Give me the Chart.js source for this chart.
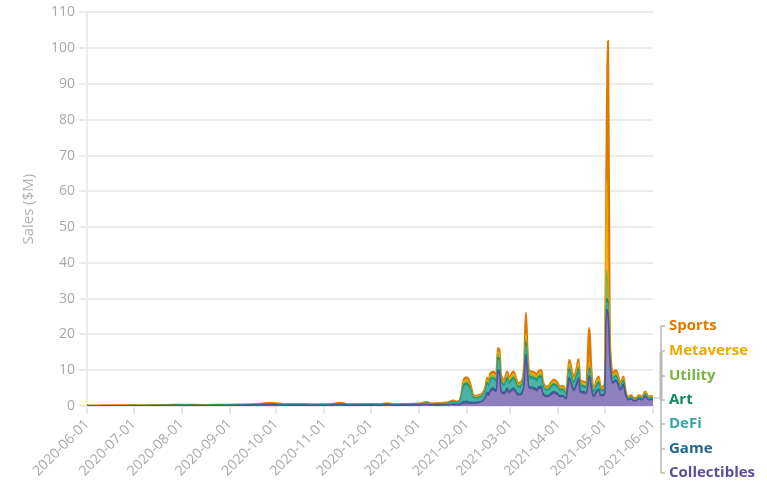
<!DOCTYPE html>
<html><head><meta charset="utf-8">
<script src="https://cdn.jsdelivr.net/npm/chart.js@4"></script>
<style>html,body{margin:0;padding:0;background:#fff}#wrap{position:relative;width:767px;height:494px}</style>
</head><body><div id="wrap"><canvas id="c" width="767" height="494"></canvas></div>
<script>
// day index counted from 2020-06-01
const days = [0,7,14,21,28,35,42,49,56,63,70,77,84,91,98,105,112,118,122,128,135,142,149,156,164,168,175,182,189,193,198,205,212,
216,219,222,226,230,233,236,239,241,243,245,247,249,251,253,255,257,258,259,260,262,264,265,266,267,269,271,272,275,276,278,280,
282,283,284,285,287,289,290,291,293,294,297,299,301,303,305,307,309,311,313,314,316,317,318,320,322,324,325,326,327,328,330,331,333,334,
335,336,337,338,339,341,342,344,346,347,349,351,352,354,356,358,360,362,364,365];

const collectibles = [.06,.05,.07,.06,.08,.07,.09,.1,.12,.11,.12,.1,.12,.14,.16,.17,.22,.3,.25,.18,.2,.18,.16,.18,.3,.18,.18,.2,.18,.25,.18,.2,.22,
.25,.35,.22,.25,.28,.3,.4,.35,.5,.8,.8,.7,.8,.8,1.0,1.3,2.3,3.4,3.0,4.0,4.5,4.0,9.6,9.0,4.0,3.3,4.6,3.6,4.6,4.1,3.0,3.2,
6.5,14,9,5,4.8,4.5,4.2,4.8,5.0,3.2,2.6,3.1,3.6,3.3,2.6,2.7,1.9,7.5,5,4.3,6.2,7.5,3.9,3.6,3.4,8,5.5,3.2,2.6,3.4,4.4,2.9,2.9,3.5,
26,25,14,8,6.3,7,6.4,4.4,5.8,3.5,1.7,2.0,1.5,1.4,2.0,1.6,2.7,1.7,1.8,1.6];

const game = [.02,.02,.03,.02,.03,.03,.03,.04,.05,.04,.05,.04,.05,.06,.07,.08,.1,.15,.12,.09,.1,.09,.08,.09,.12,.09,.09,.1,.09,.12,.09,.1,.1,
.08,.1,.07,.08,.09,.1,.15,.12,.2,.5,.5,.4,.2,.2,.2,.2,.3,.4,.4,.5,.5,.5,.6,.6,.5,.4,.5,.4,.5,.5,.4,.4,
.5,.6,.5,.5,.5,.5,.5,.5,.5,.4,.3,.4,.4,.4,.3,.3,.2,.5,.4,.4,.5,.5,.4,.4,.4,.5,.4,.3,.3,.4,.4,.3,.3,.3,
1,1,.5,.4,.3,.3,.3,.2,.3,.2,.1,.1,.1,.1,.1,.1,.15,.1,.1,.1];

const defi = [.02,.01,.02,.02,.03,.02,.03,.03,.04,.04,.04,.03,.04,.05,.06,.07,.1,.15,.12,.09,.1,.09,.08,.09,.15,.09,.09,.1,.09,.14,.09,.1,.12,
.25,.35,.22,.25,.28,.32,.5,.4,1.2,4.1,4.5,3.5,1.2,1.0,1.1,1.2,1.6,2.2,2.0,2.4,2.4,2.2,2.8,2.7,2.0,1.9,2.3,2.0,2.3,2.1,1.6,1.7,
2.2,2.5,2.3,2.3,2.2,2.2,2.1,2.2,2.3,1.7,1.3,1.5,1.7,1.6,1.3,1.3,1.0,1.8,1.6,1.5,1.7,1.8,1.3,1.2,1.1,1.5,1.3,1.0,.8,1.0,1.3,.9,.9,1.0,
2,2,1.5,1.0,.8,.8,.8,.6,.7,.4,.25,.3,.2,.2,.3,.25,.4,.25,.3,.25];

const art = [.01,.01,.02,.01,.02,.02,.02,.02,.03,.03,.03,.02,.03,.03,.04,.05,.06,.1,.08,.05,.06,.05,.05,.05,.08,.05,.05,.06,.05,.08,.05,.06,.06,
.08,.1,.07,.08,.09,.1,.15,.12,.2,.5,.5,.4,.2,.2,.2,.2,.3,.4,.4,.5,.5,.5,.6,.6,.5,.4,.5,.5,.5,.5,.4,.4,
.6,.8,.7,.6,.6,.5,.5,.5,.6,.4,.3,.4,.4,.4,.3,.3,.2,.6,.5,.5,.6,.6,.4,.4,.4,.6,.5,.4,.3,.4,.5,.4,.3,.4,
1,1,.5,.4,.3,.3,.3,.2,.3,.2,.1,.1,.1,.1,.1,.1,.15,.1,.1,.1];

const utility = [.01,.01,.01,.01,.01,.01,.01,.02,.02,.02,.02,.02,.02,.02,.02,.03,.04,.06,.04,.03,.03,.03,.03,.03,.05,.03,.03,.03,.03,.05,.03,.03,.04,
.04,.06,.04,.04,.05,.05,.1,.07,.15,.5,.5,.4,.2,.15,.2,.2,.3,.4,.4,.5,.6,.5,.8,.8,.5,.4,.5,.4,.5,.5,.3,.3,
.6,1.0,.8,.6,.5,.5,.5,.5,.5,.4,.3,.3,.4,.4,.3,.3,.2,.8,.6,.5,.6,.8,.4,.4,.3,.8,.6,.3,.3,.4,.5,.3,.3,.4,
8,3,1,.6,.5,.5,.4,.3,.4,.2,.15,.15,.1,.1,.15,.15,.2,.15,.15,.15];

const metaverse = [.01,.01,.01,.01,.01,.01,.02,.02,.02,.02,.02,.02,.02,.02,.02,.02,.04,.06,.04,.03,.03,.03,.02,.03,.05,.03,.03,.03,.03,.05,.03,.03,.03,
.06,.08,.05,.06,.06,.07,.1,.08,.15,.4,.5,.4,.2,.15,.2,.2,.3,.5,.4,.5,.5,.5,.8,.7,.5,.4,.6,.5,.6,.5,.3,.4,
.7,1.1,.9,.5,.5,.5,.4,.6,.6,.3,.3,.3,.4,.3,.3,.3,.2,.7,.5,.5,.6,.8,.4,.4,.4,.9,.7,.4,.2,.4,.5,.3,.3,.4,
25,5,1.5,.6,.4,.5,.4,.3,.3,.2,.1,.15,.1,.1,.15,.1,.2,.1,.15,.1];

const sports = [.02,.01,.02,.02,.02,.02,.02,.02,.02,.02,.02,.02,.02,.03,.03,.03,.04,.08,.05,.03,.03,.03,.03,.03,.15,.03,.03,.03,.03,.06,.03,.03,.03,
.04,.06,.03,.04,.05,.06,.1,.06,.1,.5,.7,.6,.3,.2,.2,.2,.3,.5,.4,.6,.6,.5,1.0,1.0,.5,.5,.6,.5,.6,.5,.4,.4,
.9,6.0,1.8,.5,.5,.5,.5,.5,.5,.4,.3,.4,.4,.4,.3,.4,.3,1.0,.6,.5,.8,1.1,.5,.4,.4,9.5,3.0,.4,.3,.4,.6,.4,.4,.4,
5,65,6,1.0,.6,.6,.6,.4,.4,.3,.2,.2,.2,.2,.2,.2,.2,.2,.2,.2];

const seriesNames = ['Collectibles','Game','DeFi','Art','Utility','Metaverse','Sports'];
const seriesValues = [collectibles, game, defi, art, utility, metaverse, sports];
const lineColors = ['#5d4a9c','#1f6591','#33aaa3','#16875a','#79b443','#eea800','#e07800'];
const fillColors = ['#8e7fbd','#2e7aa6','#4bb2a6','#3c9b6e','#8fc15c','#f2b829','#e8902a'];

const tickDays = [0,30,61,92,122,153,183,214,245,273,304,334,365];
const tickLabels = ['2020-06-01','2020-07-01','2020-08-01','2020-09-01','2020-10-01','2020-11-01','2020-12-01','2021-01-01','2021-02-01','2021-03-01','2021-04-01','2021-05-01','2021-06-01'];

const FONT = "'Open Sans', 'Noto Sans', sans-serif";

const datasets = seriesNames.map((n, k) => ({
  label: n,
  data: days.map((d, i) => ({x: d, y: seriesValues[k][i]})),
  borderColor: lineColors[k],
  backgroundColor: fillColors[k],
  borderWidth: k === 6 ? 2.2 : 1.2,
  pointRadius: 0,
  fill: k === 0 ? 'origin' : '-1',
  cubicInterpolationMode: 'monotone'
}));

const legendPlugin = {
  id: 'sideLegend',
  afterDraw(chart) {
    const ctx = chart.ctx;
    const area = chart.chartArea;
    const bx = area.right + 8;
    const ys = [326, 351, 376, 400, 424, 449, 473];
    ctx.save();
    ctx.strokeStyle = '#b8b8b8';
    ctx.lineWidth = 1.5;
    ctx.beginPath();
    ctx.moveTo(bx, ys[0]); ctx.lineTo(bx, ys[6]);
    ys.forEach(y => { ctx.moveTo(bx, y); ctx.lineTo(bx + 4, y); });
    ctx.stroke();
    ctx.lineWidth = 3;
    ctx.beginPath(); ctx.moveTo(bx, 352); ctx.lineTo(bx, 400); ctx.stroke();
    ctx.lineWidth = 1;
    ctx.beginPath(); ctx.moveTo(area.right, 398); ctx.lineTo(bx, 398); ctx.stroke();
    ctx.font = "bold 15px " + FONT;
    ctx.textBaseline = 'middle';
    ctx.textAlign = 'left';
    for (let k = 6; k >= 0; k--) {
      ctx.fillStyle = lineColors[k];
      ctx.fillText(seriesNames[k], bx + 8, ys[6 - k]);
    }
    ctx.restore();
  }
};

new Chart(document.getElementById('c'), {
  type: 'line',
  data: { datasets },
  plugins: [legendPlugin],
  options: {
    responsive: false,
    animation: false,
    layout: { padding: { top: 6, right: 114, left: 18, bottom: 0 } },
    plugins: { legend: { display: false }, tooltip: { enabled: false } },
    scales: {
      x: {
        type: 'linear', min: 0, max: 365,
        afterBuildTicks: (axis) => { axis.ticks = tickDays.map(v => ({ value: v })); },
        afterFit: (s) => { s.height = 88; },
        ticks: {
          color: '#a8a8a8', font: { family: FONT, size: 14 },
          minRotation: 45, maxRotation: 45, padding: 2,
          callback: (v) => { const i = tickDays.indexOf(v); return i >= 0 ? tickLabels[i] : ''; }
        },
        grid: { drawOnChartArea: false, color: '#e6e6e6', tickLength: 8, lineWidth: 2 },
        border: { color: '#e6e6e6', width: 2 }
      },
      y: {
        stacked: true, min: 0, max: 110,
        afterFit: (s) => { s.width = 69; },
        ticks: { stepSize: 10, color: '#a8a8a8', font: { family: FONT, size: 14 }, padding: 4 },
        grid: { color: '#ebebeb', lineWidth: 2, tickLength: 8 },
        border: { color: '#ebebeb', width: 2 },
        title: { display: true, text: 'Sales ($M)', color: '#b0b0b0', font: { family: FONT, size: 15 }, padding: 2 }
      }
    }
  }
});
</script>
</body></html>
